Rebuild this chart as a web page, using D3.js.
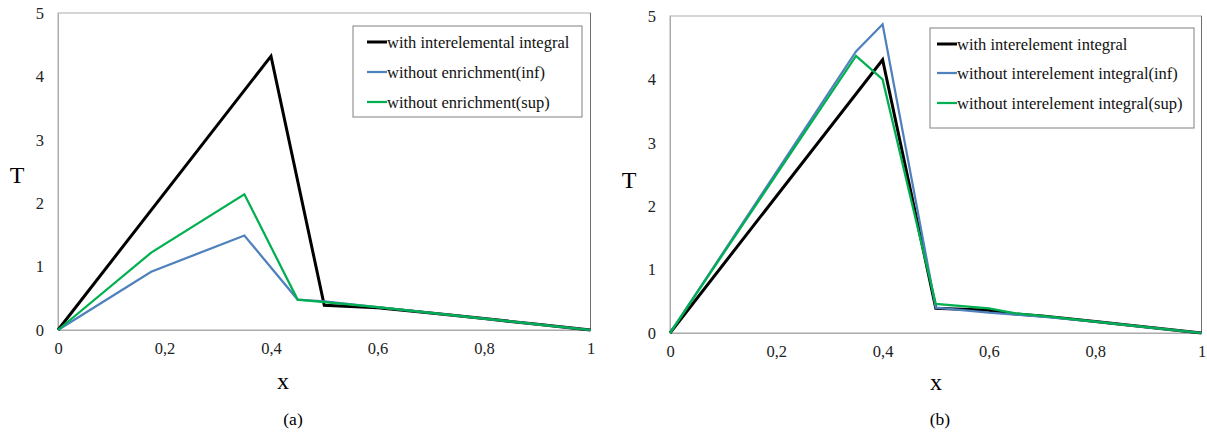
<!DOCTYPE html>
<html>
<head>
<meta charset="utf-8">
<script src="https://cdn.jsdelivr.net/npm/d3@7"></script>
<style>
  body { margin: 0; background: #fff; }
  svg { display: block; font-family: "Liberation Serif", "Times New Roman", serif; }
  svg text { font-family: "Liberation Serif", "Times New Roman", serif; }
</style>
</head>
<body>
<svg id="chart" width="1207" height="434"></svg>
<script>
// ---- data ----
const xTicks = [0, 0.2, 0.4, 0.6, 0.8, 1];
const yTicks = [0, 1, 2, 3, 4, 5];

// Panel (a)
const aX_black = [0, 0.4, 0.5, 0.6, 0.7, 0.8, 0.9, 1];
const aY_black = [0, 4.32, 0.39, 0.35, 0.27, 0.18, 0.09, 0];
const aX_blue  = [0, 0.175, 0.35, 0.45, 0.5, 0.6, 0.7, 0.8, 0.9, 1];
const aY_blue  = [0, 0.92, 1.49, 0.48, 0.45, 0.36, 0.27, 0.18, 0.09, 0];
const aX_green = [0, 0.175, 0.35, 0.45, 0.5, 0.6, 0.7, 0.8, 0.9, 1];
const aY_green = [0, 1.22, 2.14, 0.48, 0.44, 0.36, 0.27, 0.18, 0.09, 0];
const aLabels  = ["with interelemental integral", "without enrichment(inf)", "without enrichment(sup)"];

// Panel (b)
const bX_black = [0, 0.4, 0.5, 0.6, 0.65, 0.7, 0.8, 0.9, 1];
const bY_black = [0, 4.31, 0.39, 0.36, 0.30, 0.27, 0.18, 0.09, 0];
const bX_blue  = [0, 0.35, 0.4, 0.5, 0.6, 0.7, 0.8, 0.9, 1];
const bY_blue  = [0, 4.44, 4.87, 0.40, 0.32, 0.26, 0.18, 0.09, 0];
const bX_green = [0, 0.35, 0.4, 0.5, 0.6, 0.65, 0.7, 0.8, 0.9, 1];
const bY_green = [0, 4.37, 4.0, 0.46, 0.39, 0.31, 0.27, 0.18, 0.09, 0];
const bLabels  = ["with interelement integral", "without interelement integral(inf)", "without interelement integral(sup)"];

const colors = ["#000000", "#4F81BD", "#00B050"];
const widths = [3, 2.25, 2.25];

const svg = d3.select("#chart");
const fmt = d => d === 0 ? "0" : (d === 1 ? "1" : String(d).replace(".", ","));
const SERIF = "Liberation Serif, Times New Roman, serif";

function panel(cfg) {
  const x = d3.scaleLinear().domain([0, 1]).range([cfg.left, cfg.right]);
  const y = d3.scaleLinear().domain([0, 5]).range([cfg.bottom, cfg.top]);
  const g = svg.append("g");

  // plot border
  g.append("rect")
    .attr("x", x(0)).attr("y", y(5))
    .attr("width", x(1) - x(0)).attr("height", y(0) - y(5))
    .attr("fill", "none").attr("stroke", "#ABABAB").attr("stroke-width", 1);
  g.append("line")
    .attr("x1", x(1)).attr("x2", x(1)).attr("y1", y(5)).attr("y2", y(0))
    .attr("stroke", "#6E6E6E").attr("stroke-width", 1);

  // axes via d3 axis generators (no tick marks)
  const xa = g.append("g").attr("transform", `translate(0,${y(0)})`)
    .call(d3.axisBottom(x).tickValues(xTicks).tickFormat(fmt).tickSize(0).tickPadding(12));
  xa.attr("font-family", SERIF).attr("font-size", 16.5);
  xa.select(".domain").attr("stroke", "#ABABAB");
  xa.selectAll("text").attr("fill", "#222");

  const ya = g.append("g").attr("transform", `translate(${x(0)},0)`)
    .call(d3.axisLeft(y).tickValues(yTicks).tickFormat(d3.format("d")).tickSize(0).tickPadding(cfg.yPad));
  ya.attr("font-family", SERIF).attr("font-size", 16.5);
  ya.select(".domain").attr("stroke", "#ABABAB");
  ya.selectAll("text").attr("fill", "#222");

  // series
  const line = d3.line().x(d => x(d[0])).y(d => y(d[1]));
  cfg.series.forEach((s, i) => {
    const pts = s.xs.map((v, j) => [v, s.ys[j]]);
    g.append("path").datum(pts)
      .attr("d", line)
      .attr("fill", "none")
      .attr("stroke", colors[i])
      .attr("stroke-width", widths[i])
      .attr("stroke-linejoin", "miter");
  });

  // axis titles
  g.append("text").attr("x", cfg.tX).attr("y", cfg.tY).attr("text-anchor", "middle")
    .attr("dominant-baseline", "central").attr("font-size", 24).text("T");
  g.append("text").attr("x", cfg.xX).attr("y", cfg.xY).attr("text-anchor", "middle")
    .attr("dominant-baseline", "central").attr("font-size", 24).text("x");
  g.append("text").attr("x", cfg.capX).attr("y", cfg.capY).attr("text-anchor", "middle")
    .attr("dominant-baseline", "central").attr("font-size", 17.5).text(cfg.caption);

  // legend
  const L = cfg.legend;
  g.append("rect").attr("x", L.x).attr("y", L.y).attr("width", L.w).attr("height", L.h)
    .attr("fill", "#fff").attr("stroke", "#808080").attr("stroke-width", 1);
  cfg.labels.forEach((t, i) => {
    const yy = L.rowY[i];
    g.append("line").attr("x1", L.x + L.sx).attr("x2", L.x + L.sx + 20)
      .attr("y1", yy).attr("y2", yy).attr("stroke", colors[i]).attr("stroke-width", widths[i]);
    g.append("text").attr("x", L.x + L.sx + 20).attr("y", yy).attr("dominant-baseline", "central")
      .attr("font-size", 16.5).attr("fill", "#111").text(t);
  });
}

panel({
  left: 58, right: 590.5, top: 13, bottom: 330, yPad: 14,
  series: [
    { xs: aX_black, ys: aY_black },
    { xs: aX_blue, ys: aY_blue },
    { xs: aX_green, ys: aY_green }
  ],
  labels: aLabels,
  tX: 17, tY: 175, xX: 283, xY: 381, capX: 293, capY: 419, caption: "(a)",
  legend: { x: 353, y: 26, w: 229, h: 91, sx: 14, rowY: [42, 72, 102] }
});

panel({
  left: 670, right: 1201.5, top: 16, bottom: 333, yPad: 14,
  series: [
    { xs: bX_black, ys: bY_black },
    { xs: bX_blue, ys: bY_blue },
    { xs: bX_green, ys: bY_green }
  ],
  labels: bLabels,
  tX: 629, tY: 180, xX: 936, xY: 382, capX: 940, capY: 419, caption: "(b)",
  legend: { x: 930, y: 28, w: 264, h: 100, sx: 7, rowY: [44, 73, 103] }
});
</script>
</body>
</html>
